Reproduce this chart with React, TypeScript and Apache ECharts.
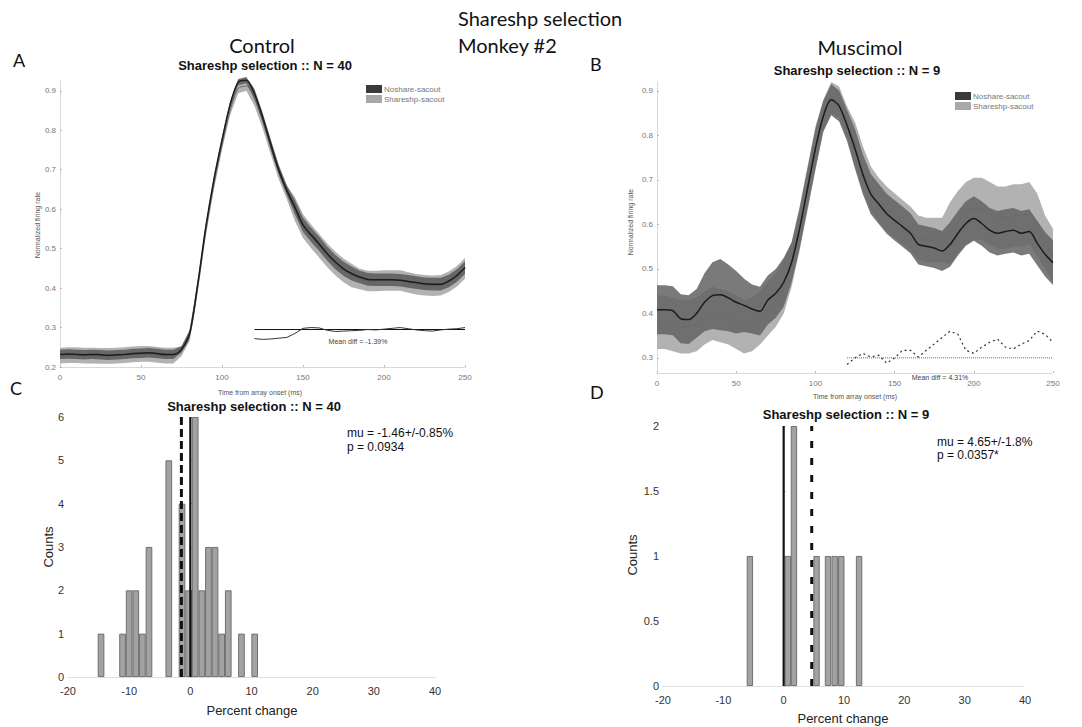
import React, { useEffect, useRef } from "react";
import * as echarts from "echarts";

// ---------- data ----------
const TIME = [0,5,10,15,20,25,30,35,40,45,50,55,60,65,70,75,80,85,90,95,100,105,110,115,120,125,130,135,140,145,150,155,160,165,170,175,180,185,190,195,200,205,210,215,220,225,230,235,240,245,250];
const TIME_TICKS = [0,50,100,150,200,250];

const A_NOSHARE = [0.232,0.233,0.232,0.231,0.232,0.231,0.230,0.231,0.232,0.234,0.235,0.236,0.234,0.232,0.232,0.245,0.285,0.410,0.555,0.675,0.775,0.865,0.922,0.927,0.893,0.834,0.766,0.700,0.648,0.605,0.560,0.535,0.512,0.487,0.466,0.449,0.437,0.428,0.422,0.421,0.421,0.421,0.420,0.417,0.414,0.411,0.410,0.410,0.418,0.432,0.452];
const A_SHARESHP = [0.229,0.230,0.230,0.229,0.229,0.228,0.228,0.229,0.230,0.232,0.233,0.233,0.231,0.229,0.229,0.240,0.278,0.400,0.543,0.662,0.762,0.850,0.906,0.912,0.880,0.824,0.758,0.694,0.643,0.600,0.557,0.531,0.507,0.483,0.462,0.445,0.432,0.423,0.418,0.418,0.419,0.419,0.419,0.414,0.410,0.407,0.406,0.407,0.416,0.430,0.450];
const A_SEM_NOSHARE = [0.012,0.012,0.012,0.012,0.012,0.012,0.012,0.012,0.012,0.012,0.012,0.012,0.012,0.012,0.012,0.008,0.008,0.008,0.008,0.008,0.008,0.008,0.008,0.008,0.012,0.012,0.012,0.012,0.012,0.018,0.018,0.018,0.018,0.018,0.018,0.018,0.018,0.016,0.016,0.016,0.016,0.016,0.016,0.016,0.016,0.016,0.016,0.016,0.016,0.016,0.016];
const A_SEM_SHARESHP = [0.02,0.02,0.02,0.02,0.02,0.02,0.02,0.02,0.02,0.02,0.02,0.02,0.02,0.02,0.02,0.012,0.012,0.012,0.012,0.012,0.012,0.012,0.012,0.012,0.018,0.018,0.018,0.018,0.018,0.03,0.03,0.03,0.03,0.03,0.03,0.03,0.03,0.026,0.026,0.026,0.026,0.026,0.026,0.026,0.026,0.026,0.026,0.026,0.026,0.026,0.026];

const DIFF_TIME = [120,125,130,135,140,145,150,155,160,165,170,175,180,185,190,195,200,205,210,215,220,225,230,235,240,245,250];
const A_DIFF = [0.272,0.270,0.271,0.273,0.275,0.285,0.298,0.300,0.299,0.293,0.290,0.291,0.292,0.293,0.295,0.294,0.296,0.298,0.300,0.297,0.294,0.292,0.291,0.294,0.296,0.297,0.300];
const A_DIFF_BASE = 0.295;

const B_NOSHARE = [0.408,0.408,0.406,0.388,0.386,0.400,0.425,0.440,0.442,0.435,0.425,0.418,0.410,0.405,0.430,0.445,0.470,0.515,0.590,0.680,0.770,0.843,0.880,0.866,0.822,0.770,0.712,0.668,0.646,0.624,0.609,0.595,0.580,0.555,0.551,0.547,0.540,0.555,0.580,0.602,0.613,0.602,0.587,0.580,0.584,0.587,0.580,0.584,0.558,0.533,0.514];
const B_SHARESHP = [0.380,0.380,0.375,0.370,0.370,0.375,0.390,0.400,0.395,0.390,0.380,0.370,0.375,0.390,0.410,0.430,0.460,0.510,0.590,0.680,0.770,0.845,0.885,0.875,0.830,0.780,0.725,0.680,0.655,0.635,0.620,0.605,0.590,0.570,0.565,0.565,0.565,0.580,0.605,0.625,0.635,0.635,0.625,0.615,0.615,0.620,0.620,0.625,0.600,0.560,0.530];
const B_SEM_NOSHARE = [0.055,0.055,0.055,0.055,0.055,0.055,0.065,0.075,0.08,0.075,0.07,0.06,0.055,0.055,0.055,0.055,0.055,0.045,0.045,0.045,0.045,0.035,0.035,0.035,0.035,0.045,0.045,0.045,0.045,0.045,0.045,0.045,0.045,0.045,0.045,0.045,0.045,0.05,0.05,0.05,0.05,0.05,0.05,0.05,0.05,0.05,0.05,0.05,0.05,0.05,0.05];
const B_SEM_SHARESHP = [0.06,0.06,0.06,0.06,0.06,0.06,0.06,0.06,0.06,0.06,0.06,0.06,0.06,0.06,0.06,0.06,0.06,0.05,0.05,0.05,0.05,0.035,0.035,0.035,0.035,0.05,0.05,0.05,0.05,0.05,0.05,0.05,0.05,0.05,0.05,0.05,0.05,0.07,0.07,0.07,0.07,0.07,0.07,0.07,0.07,0.07,0.07,0.07,0.07,0.06,0.06];
const B_DIFF = [0.285,0.300,0.310,0.302,0.306,0.288,0.300,0.317,0.317,0.302,0.317,0.331,0.346,0.360,0.353,0.317,0.310,0.324,0.335,0.342,0.324,0.320,0.331,0.339,0.360,0.353,0.335];
const B_DIFF_BASE = 0.3;

const A_Y_TICKS = [0.2,0.3,0.4,0.5,0.6,0.7,0.8,0.9];
const B_Y_TICKS = [0.3,0.4,0.5,0.6,0.7,0.8,0.9];

const C_BIN_CENTERS = [-14.6,-11.08,-10.0,-8.92,-7.84,-6.76,-3.52,-1.36,-0.28,0.80,1.88,2.96,4.04,5.12,6.20,8.36,10.52];
const C_COUNTS = [1,1,2,2,1,3,5,4,2,6,2,3,3,1,2,1,1];
const C_MU = -1.46;
const D_BIN_CENTERS = [-5.6,0.7,1.7,5.45,7.35,8.45,9.55,12.5];
const D_COUNTS = [1,1,2,1,1,1,1,1];
const D_MU = 4.65;
const HIST_X_TICKS = [-20,-10,0,10,20,30,40];

// ---------- helpers ----------
const PLOT_FONT = "'Liberation Sans', Arial, sans-serif";
const HEAD_FONT = "Lato, 'Open Sans', sans-serif";

function bandSeries(idx: number, mean: number[], sem: number[], color: string, opacity: number) {
  const rows = TIME.map((t, i) => [t, mean[i] - sem[i], mean[i] + sem[i]]);
  return {
    type: "custom", xAxisIndex: idx, yAxisIndex: idx, silent: true,
    data: rows,
    encode: { x: 0, y: [1, 2] },
    renderItem: (params: any, api: any) => {
      if (params.dataIndex !== 0) return { type: "group", children: [] };
      const upper = rows.map((r) => api.coord([r[0], r[2]]));
      const lower = rows.map((r) => api.coord([r[0], r[1]])).reverse();
      return {
        type: "polygon",
        shape: { points: upper.concat(lower) },
        style: { fill: color, opacity, stroke: "none" },
      };
    },
  };
}

function meanLine(idx: number, mean: number[], color: string, width: number) {
  return {
    type: "line", xAxisIndex: idx, yAxisIndex: idx, symbol: "none", smooth: 0.3,
    lineStyle: { color, width },
    data: TIME.map((t, i) => [t, mean[i]]),
  };
}

function timeXAxis(idx: number) {
  return {
    type: "value", gridIndex: idx, min: 0, max: 250, interval: 50,
    axisLine: { show: true, lineStyle: { color: "#d0d0d0", type: "dotted" } },
    axisTick: { show: true, inside: true, length: 2, lineStyle: { color: "#bbb" } },
    axisLabel: { fontSize: 8, color: "#777", fontFamily: PLOT_FONT, margin: 6, customValues: TIME_TICKS },
    splitLine: { show: false },
  };
}

function rateYAxis(idx: number, min: number, max: number, ticks: number[]) {
  return {
    type: "value", gridIndex: idx, min, max,
    axisLine: { show: true, lineStyle: { color: "#d0d0d0", type: "dotted" } },
    axisTick: { show: true, inside: true, length: 2, lineStyle: { color: "#bbb" }, customValues: ticks },
    axisLabel: { fontSize: 8, color: "#777", fontFamily: PLOT_FONT, margin: 4, customValues: ticks, formatter: (v: number) => v.toFixed(1) },
    splitLine: { show: false },
  };
}

function histXAxis(idx: number) {
  return {
    type: "value", gridIndex: idx, min: -20, max: 40, interval: 10,
    axisLine: { show: true, lineStyle: { color: "#d8d8d8", type: "dotted" } },
    axisTick: { show: false },
    axisLabel: { fontSize: 11, color: "#333", fontFamily: PLOT_FONT, margin: 8, customValues: HIST_X_TICKS },
    splitLine: { show: false },
  };
}

function histYAxis(idx: number, max: number, interval: number) {
  return {
    type: "value", gridIndex: idx, min: 0, max, interval,
    axisLine: { show: true, lineStyle: { color: "#c8c8c8", type: "dotted" } },
    axisTick: { show: true, inside: true, length: 2, lineStyle: { color: "#bbb" } },
    axisLabel: { fontSize: 11, color: "#333", fontFamily: PLOT_FONT, margin: 4, formatter: (v: number) => String(v) },
    splitLine: { show: false },
  };
}

function histBars(idx: number, centers: number[], counts: number[], width: number) {
  return {
    type: "bar", xAxisIndex: idx, yAxisIndex: idx, barWidth: width, barGap: "-100%",
    itemStyle: { color: "#a2a2a2", borderColor: "#666", borderWidth: 0.9 },
    data: centers.map((c, i) => [c, counts[i]]),
  };
}

function vLine(idx: number, x: number, top: number, dashed: any, width: number) {
  return {
    type: "line", xAxisIndex: idx, yAxisIndex: idx, symbol: "none",
    lineStyle: { color: "#111", width, type: dashed },
    data: [[x, 0], [x, top]],
  };
}

function txt(x: number, y: number, text: string, size: number, opts: any = {}) {
  return {
    type: "text", x, y, rotation: opts.rotation || 0, silent: true,
    style: {
      text, fontSize: size, fontFamily: opts.family || PLOT_FONT, fontWeight: opts.weight || "normal",
      fill: opts.color || "#111", align: opts.align || "left", verticalAlign: opts.valign || "middle",
    },
  };
}

function legend(x: number, y: number) {
  return [
    { type: "rect", shape: { x, y, width: 16, height: 8 }, style: { fill: "#3a3a3a" }, silent: true },
    { type: "rect", shape: { x, y: y + 10, width: 16, height: 8 }, style: { fill: "#a8a8a8" }, silent: true },
    txt(x + 18, y + 4, "Noshare-sacout", 8, { color: "#777" }),
    txt(x + 18, y + 14, "Shareshp-sacout", 8, { color: "#777" }),
  ];
}

export default function App() {
  const ref = useRef<HTMLDivElement>(null);
  useEffect(() => {
    if (!ref.current) return;
    const chart = echarts.init(ref.current, undefined, { renderer: "svg" });
    const option: any = {
      animation: false,
      backgroundColor: "#ffffff",
      grid: [
        { left: 60, top: 79, width: 405, height: 288 },
        { left: 657, top: 82, width: 396, height: 291 },
        { left: 68, top: 417, width: 367, height: 260 },
        { left: 663, top: 426, width: 362, height: 260 },
      ],
      xAxis: [timeXAxis(0), timeXAxis(1), histXAxis(2), histXAxis(3)],
      yAxis: [
        rateYAxis(0, 0.2, 0.93, A_Y_TICKS),
        rateYAxis(1, 0.266, 0.92, B_Y_TICKS),
        histYAxis(2, 6, 1),
        histYAxis(3, 2, 0.5),
      ],
      series: [
        bandSeries(0, A_SHARESHP, A_SEM_SHARESHP, "#b2b2b2", 1),
        bandSeries(0, A_NOSHARE, A_SEM_NOSHARE, "#5e5e5e", 0.9),
        meanLine(0, A_SHARESHP, "#5a5a5a", 0.8),
        meanLine(0, A_NOSHARE, "#1c1c1c", 1.5),
        {
          type: "line", xAxisIndex: 0, yAxisIndex: 0, symbol: "none",
          lineStyle: { color: "#111", width: 1 },
          data: [[DIFF_TIME[0], A_DIFF_BASE], [DIFF_TIME[DIFF_TIME.length - 1], A_DIFF_BASE]],
        },
        {
          type: "line", xAxisIndex: 0, yAxisIndex: 0, symbol: "none",
          lineStyle: { color: "#333", width: 1 },
          data: DIFF_TIME.map((t, i) => [t, A_DIFF[i]]),
        },

        bandSeries(1, B_SHARESHP, B_SEM_SHARESHP, "#b2b2b2", 1),
        bandSeries(1, B_NOSHARE, B_SEM_NOSHARE, "#636363", 0.85),
        meanLine(1, B_SHARESHP, "#6a6a6a", 0.7),
        meanLine(1, B_NOSHARE, "#1c1c1c", 1.5),
        {
          type: "line", xAxisIndex: 1, yAxisIndex: 1, symbol: "none",
          lineStyle: { color: "#666", width: 1, type: "dotted" },
          data: [[DIFF_TIME[0], B_DIFF_BASE], [DIFF_TIME[DIFF_TIME.length - 1], B_DIFF_BASE]],
        },
        {
          type: "line", xAxisIndex: 1, yAxisIndex: 1, symbol: "none",
          lineStyle: { color: "#333", width: 1.2, type: [2, 3] },
          data: DIFF_TIME.map((t, i) => [t, B_DIFF[i]]),
        },

        histBars(2, C_BIN_CENTERS, C_COUNTS, 6.6),
        vLine(2, C_MU, 6, [8, 4], 3),
        vLine(2, 0, 6, "solid", 2.2),

        histBars(3, D_BIN_CENTERS, D_COUNTS, 6.3),
        vLine(3, 0, 2, "solid", 2.2),
        vLine(3, D_MU, 2, [7, 10], 3),
      ],
      graphic: [
        txt(458, 18, "Shareshp selection", 20, { family: HEAD_FONT }),
        txt(458, 45, "Monkey #2", 20, { family: HEAD_FONT }),
        txt(262, 45, "Control", 20, { family: HEAD_FONT, align: "center" }),
        txt(860, 47, "Muscimol", 20, { family: HEAD_FONT, align: "center" }),
        txt(13, 60, "A", 18, { family: HEAD_FONT }),
        txt(590, 64, "B", 18, { family: HEAD_FONT }),
        txt(10, 388, "C", 18, { family: HEAD_FONT }),
        txt(590, 392, "D", 18, { family: HEAD_FONT }),
        txt(265, 65, "Shareshp selection :: N = 40", 13, { weight: "bold", align: "center" }),
        txt(857, 70, "Shareshp selection :: N = 9", 13, { weight: "bold", align: "center" }),
        txt(254, 406, "Shareshp selection :: N = 40", 13, { weight: "bold", align: "center" }),
        txt(846, 414, "Shareshp selection :: N = 9", 13, { weight: "bold", align: "center" }),
        txt(347, 433, "mu = -1.46+/-0.85%", 12),
        txt(347, 447, "p = 0.0934", 12),
        txt(937, 442, "mu = 4.65+/-1.8%", 12),
        txt(937, 455, "p = 0.0357*", 12),
        txt(358, 341, "Mean diff = -1.39%", 7, { color: "#444", align: "center" }),
        txt(940, 377, "Mean diff = 4.31%", 7, { color: "#444", align: "center" }),
        txt(260, 392, "Time from array onset (ms)", 7, { color: "#555", align: "center" }),
        txt(855, 396, "Time from array onset (ms)", 7, { color: "#555", align: "center" }),
        txt(37, 225, "Normalized firing rate", 7, { color: "#555", align: "center", rotation: Math.PI / 2 }),
        txt(630, 222, "Normalized firing rate", 7, { color: "#555", align: "center", rotation: Math.PI / 2 }),
        txt(48, 547, "Counts", 13, { color: "#222", align: "center", rotation: Math.PI / 2 }),
        txt(632, 555, "Counts", 13, { color: "#222", align: "center", rotation: Math.PI / 2 }),
        txt(252, 710, "Percent change", 13, { color: "#222", align: "center" }),
        txt(843, 718, "Percent change", 13, { color: "#222", align: "center" }),
        ...legend(366, 85),
        ...legend(955, 92),
      ],
    };
    chart.setOption(option);
    return () => chart.dispose();
  }, []);
  return <div ref={ref} style={{ position: "absolute", left: 0, top: 0, width: 1082, height: 727 }} />;
}
